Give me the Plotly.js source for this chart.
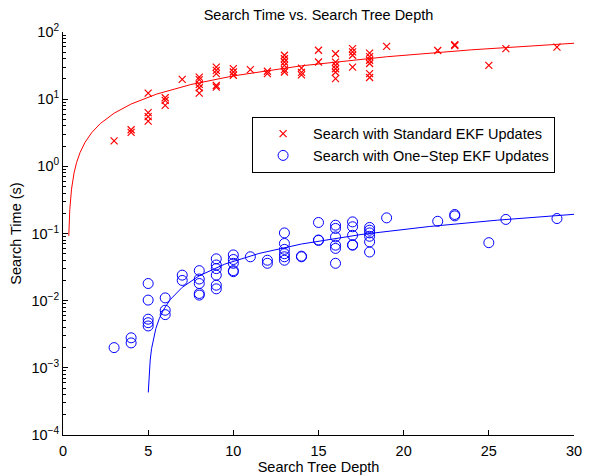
<!DOCTYPE html>
<html>
<head>
<meta charset="utf-8">
<script src="https://cdn.plot.ly/plotly-3.0.1.min.js"></script>
<style>html,body{margin:0;padding:0;background:#fff;}#chart{width:589px;height:476px;}</style>
</head>
<body>
<div id="chart"></div>
<script>
// Standard EKF updates (red x)
var stdDepth = [3, 4,4, 5,5,5,5, 6,6,6, 7, 8,8,8,8,8, 9,9,9,9,9, 10,10,10, 11, 12,12,
  13,13,13,13,13,13, 14,14,14, 15,15, 16,16,16,16,16,16, 17,17,17,17, 18,18,18,18,18,18,
  19, 22, 23,23, 25, 26, 29];
var stdTime = [2.4, 3.2,3.5, 12.3,6.3,5.5,4.7, 10.5,9.6,8.1, 19.7, 21.3,19.5,16.6,14.8,12.3,
  30,26.9,24,16,15.1, 28.5,25.4,22.7, 27.6, 26,24,
  45,40,35.8,31.9,27.6,25.4, 29,25,23, 53.5,35.8, 47.5,35.7,31.8,28.4,25.2,20.2,
  56.6,50.6,45,30, 48.5,43,38,34,24,21, 61, 53, 63,64.5, 31.8, 56.6, 59.6];

// One-step EKF updates (blue o)
var oneDepth = [3, 4,4, 5,5,5,5,5, 6,6,6, 7,7, 8,8,8,8,8, 9,9,9,9,9,9, 10,10,10,10,10, 11, 12,12,
  13,13,13,13,13,13, 14,14, 15,15,15, 16,16,16,16,16,16, 17,17,17,17,17, 18,18,18,18,18,18,
  19, 22, 23,23, 25, 26, 29];
var oneTime = [0.0020, 0.0028,0.00235, 0.018,0.0102,0.0053,0.0047,0.0042, 0.011,0.0072,0.0062,
  0.024,0.020, 0.028,0.021,0.018,0.0128,0.0121, 0.042,0.034,0.030,0.024,0.017,0.015,
  0.048,0.041,0.036,0.028,0.027, 0.045, 0.040,0.036,
  0.102,0.071,0.058,0.050,0.045,0.040, 0.045,0.046, 0.146,0.079,0.080,
  0.133,0.119,0.089,0.067,0.060,0.036, 0.149,0.126,0.094,0.067,0.068,
  0.123,0.112,0.102,0.091,0.075,0.053, 0.171, 0.152, 0.192,0.183, 0.073, 0.162, 0.167];

// Fitted curves
var stdFitDepth = [0.34, 0.4, 0.5, 0.65, 0.8, 1, 1.3, 1.7, 2.2, 3, 4, 5.5, 7.5, 10, 14, 19, 24, 30];
var stdFitTime  = [0.092, 0.229, 0.458, 0.80, 1.145, 1.60, 2.29, 3.21, 4.35, 6.18, 8.47, 11.9, 16.5, 22.2, 31.4, 42.8, 54.3, 68.0];
var oneFitDepth = [5.006, 5.03, 5.07, 5.12, 5.2, 5.3, 5.45, 5.65, 5.9, 6.3, 7, 8, 9.5, 11.5, 14, 17.5, 21.5, 25.5, 30];
var oneFitTime  = [0.00043, 0.00062, 0.00092, 0.00131, 0.00193, 0.00270, 0.00385, 0.00539, 0.00732, 0.0104, 0.0158, 0.0235, 0.0350, 0.0504, 0.0697, 0.0966, 0.127, 0.158, 0.193];

var yMajor = [1e-4, 1e-3, 1e-2, 1e-1, 1, 10, 100];
var yMajorText = ['10<sup>−4</sup>','10<sup>−3</sup>','10<sup>−2</sup>','10<sup>−1</sup>','10<sup>0</sup>','10<sup>1</sup>','10<sup>2</sup>'];
var yMinor = [];
for (var e = -4; e < 2; e++) { for (var m = 2; m <= 9; m++) { yMinor.push(m * Math.pow(10, e)); } }

var FONT = 'Liberation Sans, Arial, Helvetica, sans-serif';

var traces = [
  {x: stdDepth, y: stdTime, type: 'scatter', mode: 'markers', name: 'Search with Standard EKF Updates',
   marker: {symbol: 'x-thin-open', size: 7, color: '#ff0000', line: {color: '#ff0000', width: 1.2}}},
  {x: oneDepth, y: oneTime, type: 'scatter', mode: 'markers', name: 'Search with One−Step EKF Updates',
   marker: {symbol: 'circle-open', size: 10, color: '#0000ff', line: {color: '#0000ff', width: 1}}},
  {x: stdFitDepth, y: stdFitTime, type: 'scatter', mode: 'lines', showlegend: false,
   line: {color: '#ff0000', width: 1}, hoverinfo: 'skip'},
  {x: oneFitDepth, y: oneFitTime, type: 'scatter', mode: 'lines', showlegend: false,
   line: {color: '#0000ff', width: 1}, hoverinfo: 'skip'}
];

var layout = {
  width: 589, height: 476,
  margin: {l: 63, r: 15, t: 32, b: 41},
  paper_bgcolor: '#ffffff', plot_bgcolor: '#ffffff',
  font: {family: FONT, size: 14, color: '#000'},
  showlegend: true,
  title: {text: 'Search Time vs. Search Tree Depth', font: {family: FONT, size: 14.5, color: '#000'},
          x: 0.5, xref: 'paper', xanchor: 'center', y: 1 - 15/476, yref: 'container', yanchor: 'middle'},
  xaxis: {range: [0, 30], tickmode: 'linear', tick0: 0, dtick: 5, ticks: 'inside', ticklen: 5,
          tickcolor: '#000', showline: true, linecolor: '#000', linewidth: 1, mirror: false,
          showgrid: false, zeroline: false, tickfont: {family: FONT, size: 14.5}, ticklabelstandoff: 3,
          title: {text: 'Search Tree Depth', font: {family: FONT, size: 14.5}, standoff: 1}, automargin: false},
  yaxis: {type: 'log', range: [-4, 2], tickmode: 'array', tickvals: yMajor, ticktext: yMajorText,
          ticks: 'inside', ticklen: 5, tickcolor: '#000', showline: true, linecolor: '#000', linewidth: 1,
          mirror: false, showgrid: false, zeroline: false, tickfont: {family: FONT, size: 14.5},
          minor: {tickmode: 'array', tickvals: yMinor, ticks: 'inside', ticklen: 3, tickcolor: '#000', showgrid: false},
          title: {text: 'Search Time (s)', font: {family: FONT, size: 14.5}, standoff: 6}, automargin: false},
  legend: {x: 0.963, xanchor: 'right', y: 0.79, yanchor: 'top', bgcolor: '#ffffff', itemwidth: 50,
           bordercolor: '#000', borderwidth: 1, font: {family: FONT, size: 14.5, color: '#000'}}
};

Plotly.newPlot('chart', traces, layout, {displayModeBar: false, staticPlot: true});
</script>
</body>
</html>
